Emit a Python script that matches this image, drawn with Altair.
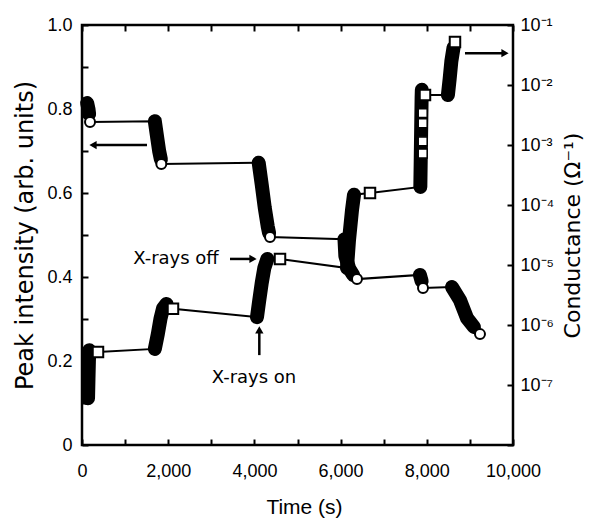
import altair as alt
import pandas as pd

# ---------------- data ----------------
# Peak intensity (left axis).  kind: "r" = dense measured run, "m" = open marker
int_time = [120, 150, 165, 186,
            1690, 1740, 1790, 1830, 1840,
            4100, 4170, 4240, 4310, 4340, 4362,
            6090, 6110, 6200, 6290, 6380,
            7840, 7880, 7912,
            8585, 8770, 8933, 9095, 9234]
int_value = [0.814, 0.800, 0.788, 0.769,
             0.771, 0.735, 0.700, 0.680, 0.669,
             0.672, 0.620, 0.565, 0.520, 0.505, 0.495,
             0.490, 0.450, 0.420, 0.405, 0.395,
             0.405, 0.390, 0.374,
             0.376, 0.345, 0.302, 0.281, 0.264]
int_kind = ["r", "r", "r", "m",
            "r", "r", "r", "r", "m",
            "r", "r", "r", "r", "r", "m",
            "r", "r", "r", "r", "m",
            "r", "r", "m",
            "r", "r", "r", "r", "m"]
int_seg = [1, 1, 1, 1,
           2, 2, 2, 2, 2,
           3, 3, 3, 3, 3, 3,
           4, 4, 4, 4, 4,
           5, 5, 5,
           6, 6, 6, 6, 6]

# Conductance (right axis, ohm^-1)
cond_time = [140, 150, 160, 170, 371,
             1690, 1760, 1820, 1880, 1960, 2111,
             4060, 4110, 4170, 4230, 4300, 4594,
             6148, 6195, 6265, 6311, 6682,
             7850, 7860, 7870, 7880, 7885, 7958,
             8490, 8530, 8570, 8620, 8654]
cond_value = [6.0e-8, 1.26e-7, 2.5e-7, 3.8e-7, 3.55e-7,
              4.0e-7, 7.1e-7, 1.26e-6, 1.9e-6, 2.24e-6, 1.86e-6,
              1.35e-6, 2.5e-6, 5.0e-6, 8.9e-6, 1.26e-5, 1.26e-5,
              8.9e-6, 2.6e-5, 8.3e-5, 1.48e-4, 1.58e-4,
              2.0e-4, 6.3e-4, 2.0e-3, 6.3e-3, 8.3e-3, 6.8e-3,
              6.8e-3, 1.26e-2, 2.5e-2, 4.2e-2, 5.2e-2]
cond_kind = ["r", "r", "r", "r", "m",
             "r", "r", "r", "r", "r", "m",
             "r", "r", "r", "r", "r", "m",
             "r", "r", "r", "r", "m",
             "r", "r", "r", "r", "r", "m",
             "r", "r", "r", "r", "m"]
cond_seg = [1, 1, 1, 1, 1,
            2, 2, 2, 2, 2, 2,
            3, 3, 3, 3, 3, 3,
            4, 4, 4, 4, 4,
            5, 5, 5, 5, 5, 5,
            6, 6, 6, 6, 6]
# open squares visible inside the steep run near 7,900 s
cond_inner_time = [7905, 7905, 7905, 7905]
cond_inner_value = [3.4e-3, 2.3e-3, 1.15e-3, 7.2e-4]

# annotation arrows (in time / peak-intensity coordinates)
arrow_x1 = [1508, 8886, 3434, 4114]
arrow_x2 = [255, 9814, 3968, 4114]
arrow_y1 = [0.714, 0.933, 0.443, 0.214]
arrow_y2 = [0.714, 0.933, 0.443, 0.274]
arrow_head = ["triangle-left", "triangle-right", "triangle-right", "triangle-up"]
note_text = ["X-rays off", "X-rays on"]
note_x = [2181, 3991]
note_y = [0.443, 0.160]

x_ticks = [0, 1000, 2000, 3000, 4000, 5000, 6000, 7000, 8000, 9000, 10000]
left_ticks = [0, 0.1, 0.2, 0.3, 0.4, 0.5, 0.6, 0.7, 0.8, 0.9, 1.0]
right_ticks = [1e-8, 1e-7, 1e-6, 1e-5, 1e-4, 1e-3, 1e-2, 1e-1]

# ---------------- frames ----------------
int_df = pd.DataFrame({"t": int_time, "v": int_value, "kind": int_kind, "seg": int_seg})
int_df["i"] = range(len(int_df))
cond_df = pd.DataFrame({"t": cond_time, "v": cond_value, "kind": cond_kind, "seg": cond_seg})
cond_df["i"] = range(len(cond_df))
inner_df = pd.DataFrame({"t": cond_inner_time, "v": cond_inner_value})
arrow_df = pd.DataFrame({"x1": arrow_x1, "x2": arrow_x2, "y1": arrow_y1, "y2": arrow_y2, "head": arrow_head})
note_df = pd.DataFrame({"label": note_text, "x": note_x, "y": note_y})

TICK_FONT = "Liberation Sans"
TITLE_FONT = "DejaVu Sans"

xscale = alt.Scale(domain=[0, 10000], nice=False)
lscale = alt.Scale(domain=[0, 1], nice=False, zero=False)
rscale = alt.Scale(type="log", domain=[1e-8, 1e-1], nice=False)

bottom_axis = alt.Axis(
    orient="bottom", values=x_ticks, offset=-6, tickSize=6, tickWidth=2, tickColor="black",
    domain=False, grid=False, labelOverlap=False, labelFlush=False,
    labelExpr="datum.value % 2000 == 0 ? format(datum.value, ',') : ''",
    labelFont=TICK_FONT, labelFontSize=18, labelColor="black", labelPadding=17,
    title="Time (s)", titleFont="Liberation Sans", titleFontSize=21, titleFontWeight="normal",
    titleColor="black", titleX=222, titleY=68, titleAlign="center", titleBaseline="middle",
)
top_axis = alt.Axis(
    orient="top", values=x_ticks, offset=-6, tickSize=6, tickWidth=2, tickColor="black",
    domain=False, grid=False, labels=False, title=None,
)
left_axis = alt.Axis(
    orient="left", values=left_ticks, offset=-6, tickSize=6, tickWidth=2, tickColor="black",
    domain=False, grid=False, labelOverlap=False, labelFlush=False,
    labelExpr="datum.value == 0 ? '0' : (round(datum.value * 10) % 2 == 0 ? format(datum.value, '.1f') : '')",
    labelFont=TICK_FONT, labelFontSize=18, labelColor="black", labelPadding=10,
    title="Peak intensity (arb. units)", titleFont=TITLE_FONT, titleFontSize=24,
    titleFontWeight="normal", titleColor="black", titleAngle=270, titleX=-63, titleY=210,
    titleAlign="center", titleBaseline="middle",
)
right_axis = alt.Axis(
    orient="right", values=right_ticks, offset=-6, tickSize=6, tickWidth=2, tickColor="black",
    domain=False, grid=False, labelOverlap=False, labelFlush=False,
    labelExpr="datum.value < 5e-8 ? '' : '10\u207b' + ['\u2070','\u00b9','\u00b2','\u00b3','\u2074','\u2075','\u2076','\u2077','\u2078','\u2079'][round(-log(datum.value) / LN10)]",
    labelFont=TICK_FONT, labelFontSize=18, labelColor="black", labelPadding=7,
    title="Conductance (\u03a9\u207b\u00b9)", titleFont=TITLE_FONT, titleFontSize=22,
    titleFontWeight="normal", titleColor="black", titleAngle=270, titleX=65, titleY=210,
    titleAlign="center", titleBaseline="middle",
)

# thin connecting lines
int_line = alt.Chart(int_df).mark_line(color="black", strokeWidth=2).encode(
    x=alt.X("t:Q", scale=xscale, axis=bottom_axis),
    y=alt.Y("v:Q", scale=lscale, axis=left_axis),
    order="i:Q",
)
cond_line = alt.Chart(cond_df).mark_line(color="black", strokeWidth=2).encode(
    x=alt.X("t:Q", scale=xscale, axis=top_axis),
    y=alt.Y("v:Q", scale=rscale, axis=right_axis),
    order="i:Q",
)

# dense runs of measurements (solid black bands)
int_runs = alt.Chart(int_df).transform_filter("datum.kind == 'r'").mark_line(
    color="black", strokeWidth=14, strokeCap="round", strokeJoin="round"
).encode(
    x=alt.X("t:Q", scale=xscale, axis=None),
    y=alt.Y("v:Q", scale=lscale, axis=None),
    detail="seg:N", order="i:Q",
)
cond_runs = alt.Chart(cond_df).transform_filter("datum.kind == 'r'").mark_line(
    color="black", strokeWidth=14, strokeCap="round", strokeJoin="round"
).encode(
    x=alt.X("t:Q", scale=xscale, axis=None),
    y=alt.Y("v:Q", scale=rscale, axis=None),
    detail="seg:N", order="i:Q",
)

# open markers
int_marks = alt.Chart(int_df).transform_filter("datum.kind == 'm'").mark_point(
    shape="circle", filled=True, fill="white", stroke="black", strokeWidth=2, size=100, opacity=1
).encode(
    x=alt.X("t:Q", scale=xscale, axis=None),
    y=alt.Y("v:Q", scale=lscale, axis=None),
)
cond_marks = alt.Chart(cond_df).transform_filter("datum.kind == 'm'").mark_point(
    shape="square", filled=True, fill="white", stroke="black", strokeWidth=2, size=110, opacity=1
).encode(
    x=alt.X("t:Q", scale=xscale, axis=None),
    y=alt.Y("v:Q", scale=rscale, axis=None),
)
cond_inner = alt.Chart(inner_df).mark_point(
    shape="square", filled=True, fill="white", stroke="black", strokeWidth=1.5, size=80, opacity=1
).encode(
    x=alt.X("t:Q", scale=xscale, axis=None),
    y=alt.Y("v:Q", scale=rscale, axis=None),
)

# annotations
arrows = alt.Chart(arrow_df).mark_rule(color="black", strokeWidth=2.5).encode(
    x=alt.X("x1:Q", scale=xscale, axis=None), x2="x2:Q",
    y=alt.Y("y1:Q", scale=lscale, axis=None), y2="y2:Q",
)
heads = alt.Chart(arrow_df).mark_point(filled=True, color="black", size=70, opacity=1).encode(
    x=alt.X("x2:Q", scale=xscale, axis=None),
    y=alt.Y("y2:Q", scale=lscale, axis=None),
    shape=alt.Shape("head:N", scale=None),
)
notes = alt.Chart(note_df).mark_text(
    font="DejaVu Sans", fontSize=18, color="black", align="center", baseline="middle"
).encode(
    x=alt.X("x:Q", scale=xscale, axis=None),
    y=alt.Y("y:Q", scale=lscale, axis=None),
    text="label:N",
)

chart = alt.layer(
    int_line, cond_line, int_runs, cond_runs, int_marks, cond_marks, cond_inner,
    arrows, heads, notes,
).resolve_scale(y="independent").resolve_axis(x="independent", y="independent").properties(
    width=431, height=420,
    autosize=alt.AutoSizeParams(type="none"),
    padding={"left": 74, "top": 17, "right": 72, "bottom": 75},
).configure_view(stroke="black", strokeWidth=2.5)

chart.save("out.html", embed_options={"renderer": "svg", "actions": False})
